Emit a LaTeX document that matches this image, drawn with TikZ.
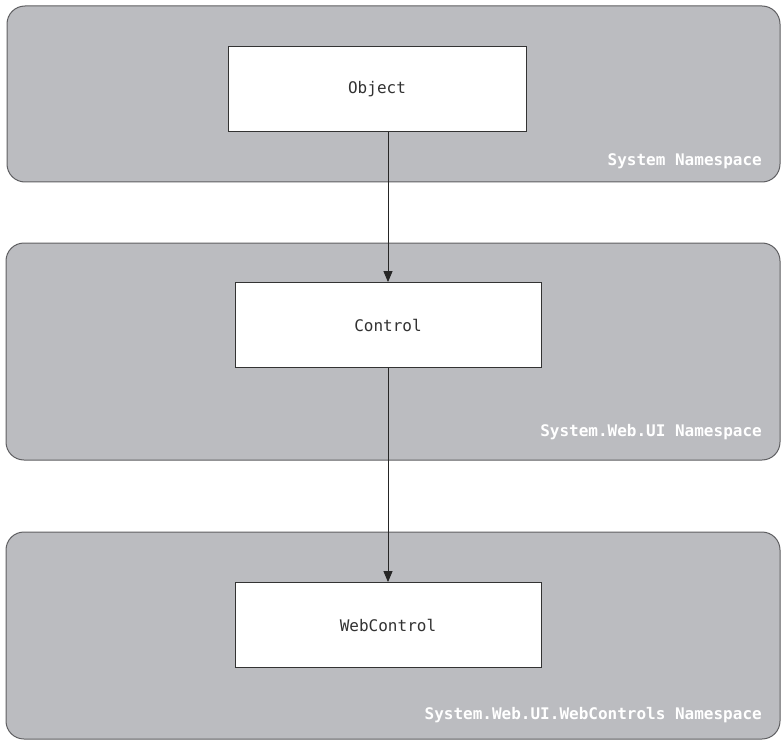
\documentclass[tikz,border=0pt]{standalone}
\usepackage{fontspec}
\setmonofont{DejaVu Sans Mono}
\usetikzlibrary{arrows.meta}
\definecolor{panelfill}{RGB}{187,188,192}
\definecolor{paneledge}{RGB}{95,95,98}
\definecolor{boxtext}{RGB}{50,50,50}
\begin{document}
\begin{tikzpicture}[x=1pt,y=-1pt,
  panel/.style={draw=paneledge, fill=panelfill, line width=1pt, rounded corners=18pt},
  classbox/.style={draw=black!80, fill=white, line width=0.8pt, minimum width=306pt, minimum height=85pt, inner sep=0pt,
    font=\ttfamily\fontsize{16}{16}\selectfont, text=boxtext},
  nslabel/.style={anchor=east, inner sep=0pt, text=white, font=\ttfamily\bfseries\fontsize{16}{16}\selectfont},
  link/.style={draw=black!85, line width=0.9pt, -{Triangle[length=11pt,width=9pt]}}]
\useasboundingbox (0,0) rectangle (782,741);
% panels
\path[panel] (7,6) rectangle (780,182);
\path[panel] (6,243) rectangle (780,460);
\path[panel] (6,532) rectangle (780,739);
% labels
\node[nslabel] (l1) at (762,161) {System Namespace};
\node[nslabel] (l2) at (762,432) {System.Web.UI Namespace};
\node[nslabel] (l3) at (762,715) {System.Web.UI.WebControls Namespace};
% class boxes
\node[classbox, minimum width=298pt] (obj) at (377,89) {Object};
\node[classbox] (ctl) at (388,325) {Control};
\node[classbox] (web) at (388,625) {WebControl};
% arrows
\draw[link] (obj.south -| 388,0) -- (ctl.north);
\draw[link] (ctl.south) -- (web.north);
\end{tikzpicture}
\end{document}
